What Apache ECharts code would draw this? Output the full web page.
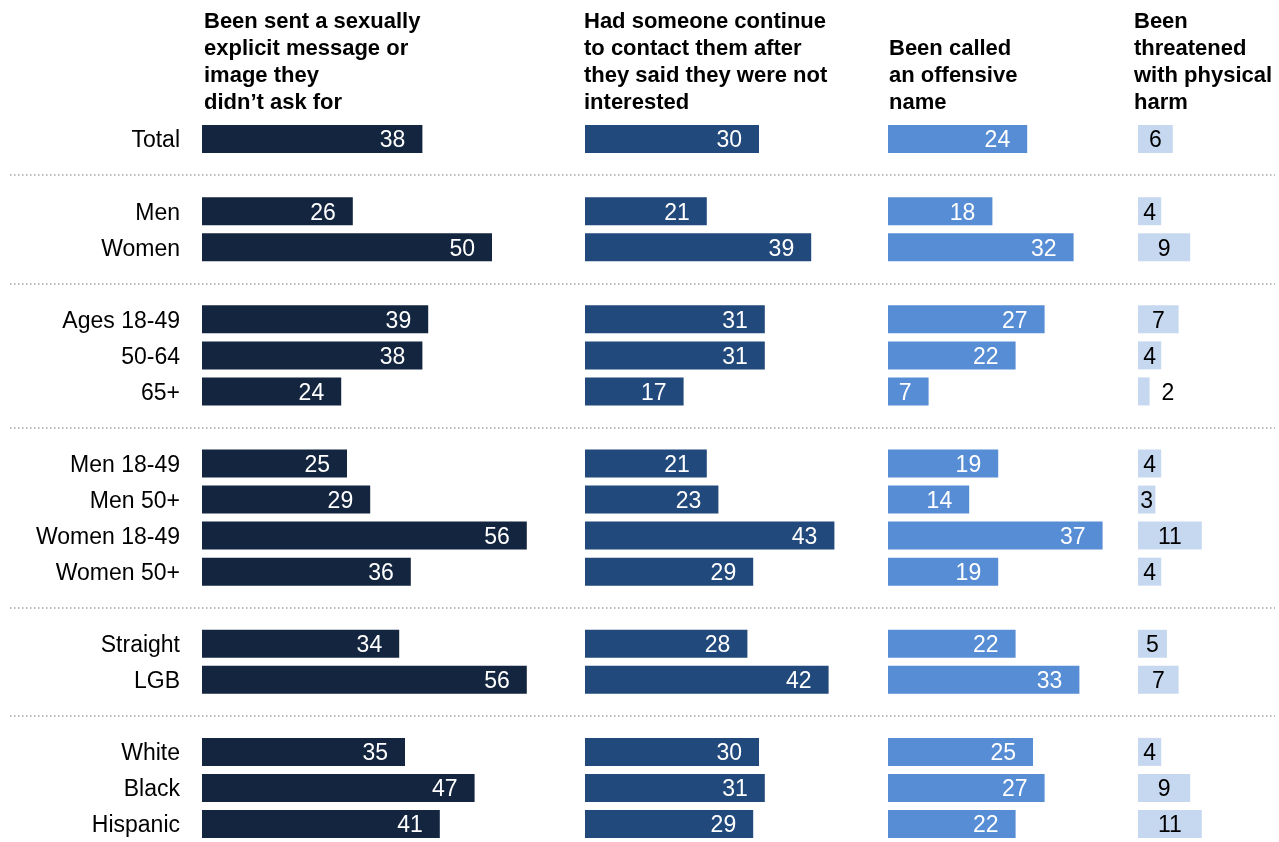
<!DOCTYPE html>
<html>
<head>
<meta charset="utf-8">
<script src="https://cdn.jsdelivr.net/npm/echarts@6/dist/echarts.min.js"></script>
<style>
  html, body { margin: 0; padding: 0; background: #fff; }
  #chart { width: 1279px; height: 842px; }
</style>
</head>
<body>
<div id="chart"></div>
<script>
// Row groups, top to bottom; a dotted rule separates consecutive groups
const groups = [
  ['Total'],
  ['Men', 'Women'],
  ['Ages 18-49', '50-64', '65+'],
  ['Men 18-49', 'Men 50+', 'Women 18-49', 'Women 50+'],
  ['Straight', 'LGB'],
  ['White', 'Black', 'Hispanic']
];

// Percentages, one value per row in the same order as the groups
const sentExplicit   = [38, 26, 50, 39, 38, 24, 25, 29, 56, 36, 34, 56, 35, 47, 41];
const keptContacting = [30, 21, 39, 31, 31, 17, 21, 23, 43, 29, 28, 42, 30, 31, 29];
const offensiveName  = [24, 18, 32, 27, 22, 7, 19, 14, 37, 19, 22, 33, 25, 27, 22];
const threatened     = [6, 4, 9, 7, 4, 2, 4, 3, 11, 4, 5, 7, 4, 9, 11];

const headers = [
  'Been sent a sexually\nexplicit message or\nimage they\ndidn\u2019t ask for',
  'Had someone continue\nto contact them after\nthey said they were not\ninterested',
  'Been called\nan offensive\nname',
  'Been\nthreatened\nwith physical\nharm'
];

const FONT = '"Liberation Sans", Arial, sans-serif';

// Build the padded category list: an empty slot between groups
const categories = [];
const rowIndex = [];      // slot index of each data row
const gapSlots = [];      // slot index of each separator
groups.forEach((g, gi) => {
  if (gi > 0) {
    gapSlots.push(categories.length);
    categories.push('gap' + gi);
  }
  g.forEach(name => {
    rowIndex.push(categories.length);
    categories.push(name);
  });
});

function padded(values) {
  const out = categories.map(() => null);
  values.forEach((v, i) => { out[rowIndex[i]] = v; });
  return out;
}

const panels = [
  { values: sentExplicit,   color: '#13253f', left: 202, max: 60, head: 204 },
  { values: keptContacting, color: '#21497b', left: 585, max: 60, head: 584 },
  { values: offensiveName,  color: '#568dd5', left: 888, max: 60, head: 889 },
  { values: threatened,     color: '#c6d8ef', left: 1138, max: 20, head: 1134 }
];

const PX_PER_UNIT = 5.8;
const TOP = 121.1, HEIGHT = 723.7;

const grid = [], xAxis = [], yAxis = [], series = [], title = [];

panels.forEach((p, i) => {
  grid.push({ left: p.left, top: TOP, width: p.max * PX_PER_UNIT, height: HEIGHT });
  xAxis.push({ gridIndex: i, type: 'value', min: 0, max: p.max, show: false });
  yAxis.push({
    gridIndex: i, type: 'category', data: categories, inverse: true,
    axisLine: { show: false }, axisTick: { show: false }, splitLine: { show: false },
    axisLabel: {
      show: i === 0, margin: 22, fontSize: 23, color: '#000', fontFamily: FONT,
      // nudge the row names down so their cap height sits centred on the bar
      verticalAlign: 'top', lineHeight: 4,
      formatter: v => (v.indexOf('gap') === 0 ? '' : v)
    }
  });
  const light = i === 3;
  series.push({
    type: 'bar', xAxisIndex: i, yAxisIndex: i, barWidth: 28, silent: true,
    itemStyle: { color: p.color },
    label: light ? {
      show: true, position: 'inside', color: '#000', fontSize: 23, fontFamily: FONT, offset: [0, 2]
    } : {
      show: true, position: 'insideRight', distance: 17, color: '#fff', fontSize: 23, fontFamily: FONT, offset: [0, 2]
    },
    data: padded(p.values).map(v => {
      if (v === null) return null;
      if (light && v < 3) {
        return { value: v, label: { position: 'right', distance: 12 } };
      }
      return v;
    })
  });
  const lines = headers[i].split('\n').length;
  title.push({
    text: headers[i], left: p.head, top: 8.5 + (4 - lines) * 27, padding: 0,
    textStyle: { fontSize: 22, fontWeight: 'bold', color: '#000', lineHeight: 27, fontFamily: FONT }
  });
});

// Full-width grid that only carries the dotted group separators
grid.push({ left: 10, right: 4, top: TOP, height: HEIGHT });
xAxis.push({ gridIndex: 4, type: 'value', min: 0, max: 1, show: false });
yAxis.push({ gridIndex: 4, type: 'category', data: categories, inverse: true, show: false });
series.push({
  type: 'line', xAxisIndex: 4, yAxisIndex: 4, data: [], silent: true,
  markLine: {
    silent: true, symbol: ['none', 'none'], label: { show: false },
    lineStyle: { type: [1.5, 2.5], color: '#a3a3a3', width: 1.5 },
    animation: false,
    data: gapSlots.map(s => ({ yAxis: s }))
  }
});

const chart = echarts.init(document.getElementById('chart'), null, { renderer: 'canvas' });
chart.setOption({ animation: false, title, grid, xAxis, yAxis, series });
</script>
</body>
</html>
